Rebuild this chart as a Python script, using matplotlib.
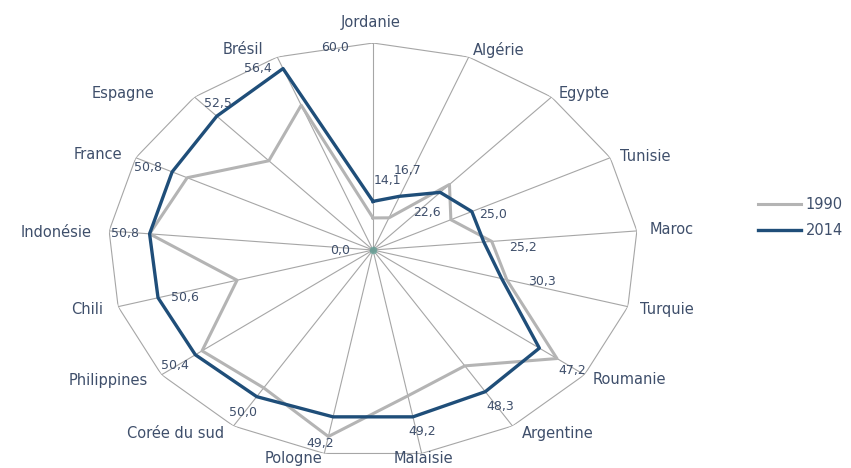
import numpy as np
import matplotlib.pyplot as plt

# Radar chart: share per country, 1990 vs 2014
categories = ["Jordanie", "Algérie", "Egypte", "Tunisie", "Maroc", "Turquie",
              "Roumanie", "Argentine", "Malaisie", "Pologne", "Corée du sud",
              "Philippines", "Chili", "Indonésie", "France", "Espagne", "Brésil"]
values_1990 = [9.3, 10.0, 25.7, 19.7, 27.0, 31.5, 52.2, 39.5, 43.0, 55.0,
               47.0, 48.5, 32.0, 50.8, 47.0, 35.0, 45.0]
values_2014 = [14.1, 16.7, 22.6, 25.0, 25.2, 30.3, 47.2, 48.3, 49.2, 49.2,
               50.0, 50.4, 50.6, 50.8, 50.8, 52.5, 56.4]
r_max = 60.0

GRID = "#a6a6a6"
GREY = "#b4b4b4"
BLUE = "#1f4e79"
TEXT = "#3f4f6b"

plt.rcParams["font.family"] = ["DejaVu Sans"]

n = len(categories)
angles = np.linspace(0, 2 * np.pi, n, endpoint=False)
closed = np.append(angles, angles[0])

fig = plt.figure(figsize=(8.51, 4.68), dpi=100)
ax = fig.add_axes([0.1269, 0.0235, 0.6228, 0.8846], projection="polar")
ax.set_theta_zero_location("N")
ax.set_theta_direction(-1)
ax.set_aspect("auto")
ax.set_ylim(0, r_max)
ax.grid(False)
ax.spines["polar"].set_visible(False)
ax.set_xticks([])
ax.set_yticks([])
ax.patch.set_alpha(0)

# spokes and outer polygon
for a in angles:
    ax.plot([a, a], [0, r_max], color=GRID, lw=0.8, zorder=1)
ax.plot(closed, [r_max] * (n + 1), color=GRID, lw=0.8, zorder=1)
ax.scatter([0], [0], s=30, color="#4a9a8c", alpha=0.6, lw=0, zorder=2)

l1990, = ax.plot(closed, values_1990 + values_1990[:1], color=GREY, lw=2.2,
                 label="1990", zorder=3)
l2014, = ax.plot(closed, values_2014 + values_2014[:1], color=BLUE, lw=2.4,
                 label="2014", zorder=4)

# data labels for 2014 (pixel offsets from each vertex, y downwards)
label_off = [(14, -21), (8, -26), (-13, 20), (21, 3), (39, 6), (40, 3),
             (33, 22), (15, 15), (9, 15), (-13, 27), (-14, 16), (-20, 11),
             (27, 0), (-25, 0), (-24, -4), (1, -13), (-25, 0)]
for a, v, (dx, dy) in zip(angles, values_2014, label_off):
    ax.annotate(f"{v:.1f}".replace(".", ","), (a, v),
                xytext=(dx * 0.72, -dy * 0.72), textcoords="offset points",
                ha="center", va="center", fontsize=9, color=TEXT, zorder=5)

# radial axis end labels
ax.annotate("60,0", (0, r_max), xytext=(-38 * 0.72, -4 * 0.72),
            textcoords="offset points", ha="center", va="center",
            fontsize=9, color=TEXT)
ax.annotate("0,0", (0, 0), xytext=(-33 * 0.72, 0), textcoords="offset points",
            ha="center", va="center", fontsize=9, color=TEXT)

# category labels (alignment, pixel offset from outer vertex)
cat_pos = [("center", -2, -21), ("left", 4, -7), ("left", 7, -4),
           ("left", 10, -1), ("left", 13, -1), ("left", 12, 3),
           ("left", 8, 5), ("left", 9, 8), ("center", 2, 5),
           ("right", -2, 5), ("right", -9, 8), ("right", -14, 6),
           ("right", -15, 3), ("right", -17, 2), ("right", -14, -3),
           ("right", -40, -4), ("right", -14, -7)]
for a, name, (ha, dx, dy) in zip(angles, categories, cat_pos):
    ax.annotate(name, (a, r_max), xytext=(dx * 0.72, -dy * 0.72),
                textcoords="offset points", ha=ha, va="center",
                fontsize=10.5, color=TEXT, annotation_clip=False)

fig.legend(handles=[l1990, l2014], loc="center left",
           bbox_to_anchor=(0.891, 0.535), frameon=False, fontsize=10.5,
           borderpad=0, borderaxespad=0, handlelength=2.9,
           handletextpad=0.35, labelspacing=0.75, labelcolor=TEXT)

fig.savefig("out.png", dpi=100)
